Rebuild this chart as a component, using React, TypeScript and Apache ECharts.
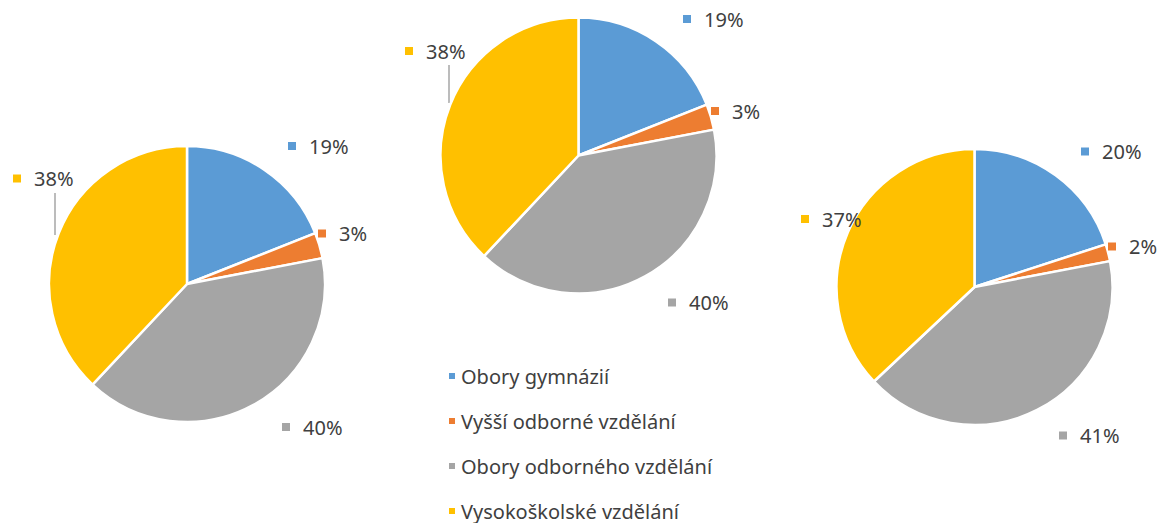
import React, { useEffect, useRef } from "react";
import * as echarts from "echarts";

const categories = [
  "Obory gymnázií",
  "Vyšší odborné vzdělání",
  "Obory odborného vzdělání",
  "Vysokoškolské vzdělání",
];
const pieA = [19, 3, 40, 38];
const pieB = [19, 3, 40, 38];
const pieC = [20, 2, 41, 37];

const colors = ["#5B9BD5", "#ED7D31", "#A5A5A5", "#FFC000"];
const textColor = "#404040";
const font = "'Noto Sans', 'DejaVu Sans', sans-serif";

// layout (pixels): pie centers, radius, label anchor offsets, leader lines
const centers: [number, number][] = [
  [187, 284],
  [578.5, 155.5],
  [974.5, 287],
];
const radius = 138;
const labelOffsets: [number, number][][] = [
  [[101, -138], [131, -50.5], [95, 143], [-174, -105.5]],
  [[104.5, -136.5], [132.5, -44.5], [89.5, 147], [-173.5, -104.5]],
  [[106.5, -135.5], [133.5, -40.5], [84.5, 148.5], [-173.5, -68]],
];
const leaderLines: ([number, number][] | null)[] = [
  [[-132, -49], [-132, -91]],
  [[-129.5, -52.5], [-129.5, -90.5]],
  null,
];

export default function App() {
  const ref = useRef<HTMLDivElement>(null);
  useEffect(() => {
    if (!ref.current) return;
    const chart = echarts.init(ref.current, undefined, { renderer: "svg" });
    const rich: any = {
      s: { width: 13, height: 8 },
      t: { fontSize: 20, color: textColor, fontFamily: font, verticalAlign: "middle" },
    };
    colors.forEach((c, i) => {
      rich["m" + i] = { width: 8, height: 8, backgroundColor: c, verticalAlign: "middle" };
    });
    const allSeries = [pieA, pieB, pieC].map((vals, si) => ({
      type: "pie",
      center: centers[si],
      radius: radius,
      startAngle: 90,
      clockwise: true,
      avoidLabelOverlap: false,
      itemStyle: { borderColor: "#ffffff", borderWidth: 2.5 },
      label: {
        show: true,
        position: "outside",
        formatter: (p: any) => `{m${p.dataIndex}|}{s|}{t|${p.value}%}`,
        rich,
      },
      labelLine: {
        show: false,
        lineStyle: { color: "#A6A6A6", width: 1.5 },
      },
      labelLayout: (p: any) => {
        const off = labelOffsets[si][p.dataIndex];
        const c = centers[si];
        const res: any = {
          x: c[0] + off[0],
          y: c[1] + off[1],
          align: "left",
          verticalAlign: "middle",
        };
        const ll = leaderLines[si];
        if (p.dataIndex === 3 && ll) {
          res.labelLinePoints = ll.map((pt) => [c[0] + pt[0], c[1] + pt[1]]);
        }
        return res;
      },
      emphasis: { disabled: true },
      data: vals.map((v, i) => ({
        name: categories[i],
        value: v,
        labelLine: { show: i === 3 && leaderLines[si] !== null },
      })),
    }));
    chart.setOption({
      animation: false,
      color: colors,
      legend: {
        orient: "vertical",
        left: 447,
        top: 366,
        height: 400,
        padding: 0,
        itemWidth: 8,
        itemHeight: 8,
        itemGap: 25,
        icon: "rect",
        selectedMode: false,
        textStyle: { fontSize: 20, color: textColor, fontFamily: font },
        data: categories,
      },
      series: allSeries,
    });
    return () => chart.dispose();
  }, []);
  return (
    <div
      ref={ref}
      style={{ position: "fixed", left: 0, top: 0, width: 1168, height: 523, background: "#ffffff" }}
    />
  );
}
